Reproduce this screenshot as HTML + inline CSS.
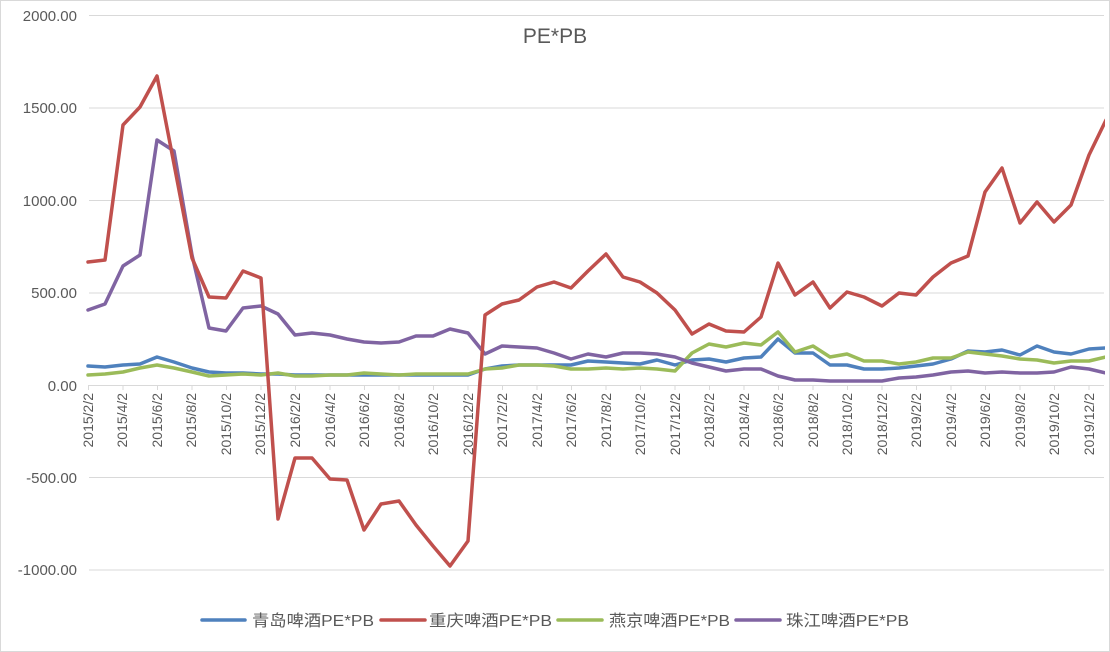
<!DOCTYPE html>
<html><head><meta charset="utf-8"><style>
html,body{margin:0;padding:0;background:#fff}
svg{display:block}
text{font-family:"Liberation Sans","Noto Sans CJK SC",sans-serif;fill:#595959}
</style></head><body>
<svg width="1110" height="652" viewBox="0 0 1110 652" xmlns="http://www.w3.org/2000/svg">
<rect x="0.5" y="0.5" width="1109" height="651" fill="#fff" stroke="#d9d9d9"/>
<g stroke="#d9d9d9" stroke-width="1">
<line x1="89" y1="15.5" x2="1104" y2="15.5"/>
<line x1="89" y1="108" x2="1104" y2="108"/>
<line x1="89" y1="200.5" x2="1104" y2="200.5"/>
<line x1="89" y1="293" x2="1104" y2="293"/>
<line x1="89" y1="477.5" x2="1104" y2="477.5"/>
<line x1="89" y1="570" x2="1104" y2="570"/>
<line x1="89" y1="385.5" x2="1104" y2="385.5"/>
</g>
<g font-size="15" text-anchor="end">
<text x="77" y="21">2000.00</text>
<text x="77" y="113">1500.00</text>
<text x="77" y="206">1000.00</text>
<text x="77" y="298">500.00</text>
<text x="77" y="391">0.00</text>
<text x="77" y="483">-500.00</text>
<text x="77" y="575">-1000.00</text>
</g>
<text x="555" y="43" font-size="21" text-anchor="middle">PE*PB</text>
<g font-size="14" text-anchor="end">
<text transform="translate(93,393) rotate(-90)">2015/2/2</text>
<text transform="translate(127,393) rotate(-90)">2015/4/2</text>
<text transform="translate(162,393) rotate(-90)">2015/6/2</text>
<text transform="translate(196,393) rotate(-90)">2015/8/2</text>
<text transform="translate(231,393) rotate(-90)">2015/10/2</text>
<text transform="translate(265,393) rotate(-90)">2015/12/2</text>
<text transform="translate(300,393) rotate(-90)">2016/2/2</text>
<text transform="translate(335,393) rotate(-90)">2016/4/2</text>
<text transform="translate(369,393) rotate(-90)">2016/6/2</text>
<text transform="translate(404,393) rotate(-90)">2016/8/2</text>
<text transform="translate(438,393) rotate(-90)">2016/10/2</text>
<text transform="translate(473,393) rotate(-90)">2016/12/2</text>
<text transform="translate(507,393) rotate(-90)">2017/2/2</text>
<text transform="translate(542,393) rotate(-90)">2017/4/2</text>
<text transform="translate(576,393) rotate(-90)">2017/6/2</text>
<text transform="translate(611,393) rotate(-90)">2017/8/2</text>
<text transform="translate(645,393) rotate(-90)">2017/10/2</text>
<text transform="translate(680,393) rotate(-90)">2017/12/2</text>
<text transform="translate(714,393) rotate(-90)">2018/2/2</text>
<text transform="translate(749,393) rotate(-90)">2018/4/2</text>
<text transform="translate(783,393) rotate(-90)">2018/6/2</text>
<text transform="translate(818,393) rotate(-90)">2018/8/2</text>
<text transform="translate(852,393) rotate(-90)">2018/10/2</text>
<text transform="translate(887,393) rotate(-90)">2018/12/2</text>
<text transform="translate(921,393) rotate(-90)">2019/2/2</text>
<text transform="translate(956,393) rotate(-90)">2019/4/2</text>
<text transform="translate(990,393) rotate(-90)">2019/6/2</text>
<text transform="translate(1025,393) rotate(-90)">2019/8/2</text>
<text transform="translate(1059,393) rotate(-90)">2019/10/2</text>
<text transform="translate(1094,393) rotate(-90)">2019/12/2</text>
</g>
<g stroke="#d9d9d9" stroke-width="1">
<path d="M88.5 385v5M123 385v5M157.5 385v5M192 385v5M226.5 385v5M261 385v5M295.5 385v5M330 385v5M364.5 385v5M399 385v5M433.5 385v5M468 385v5M502.5 385v5M537 385v5M571.5 385v5M606 385v5M640.5 385v5M675 385v5M709.5 385v5M744 385v5M778.5 385v5M813 385v5M847.5 385v5M882 385v5M916.5 385v5M951 385v5M985.5 385v5M1020 385v5M1054.5 385v5M1089 385v5"/>
</g>
<clipPath id="c"><rect x="85" y="0" width="1020" height="652"/></clipPath>
<g fill="none" stroke-width="3.5" stroke-linejoin="round" stroke-linecap="round" clip-path="url(#c)">
<polyline stroke="#4f81bd" points="88,366 105,367 123,365 140,364 157,357 174,362 192,368 209,372 226,373 243,373 261,374 278,374 295,375 312,375 330,375 347,375 364,375 381,375 399,375 416,375 433,375 450,375 468,375 485,369 502,366 519,365 537,365 554,365 571,365 588,361 606,362 623,363 640,364 657,360 675,365 692,360 709,359 726,362 744,358 761,357 778,339 795,353 813,353 830,365 847,365 864,369 882,369 899,368 916,366 933,364 951,359 968,351 985,352 1002,350 1020,355 1037,346 1054,352 1071,354 1089,349 1106,348"/>
<polyline stroke="#9bbb59" points="88,375 105,374 123,372 140,368 157,365 174,368 192,372 209,376 226,375 243,374 261,375 278,373 295,376 312,376 330,375 347,375 364,373 381,374 399,375 416,374 433,374 450,374 468,374 485,369 502,368 519,365 537,365 554,366 571,369 588,369 606,368 623,369 640,368 657,369 675,371 692,353 709,344 726,347 744,343 761,345 778,332 795,352 813,346 830,357 847,354 864,361 882,361 899,364 916,362 933,358 951,358 968,352 985,354 1002,356 1020,359 1037,360 1054,363 1071,361 1089,361 1106,357"/>
<polyline stroke="#8064a2" points="88,310 105,304 123,266 140,255 157,140 174,151 192,255 209,328 226,331 243,308 261,306 278,314 295,335 312,333 330,335 347,339 364,342 381,343 399,342 416,336 433,336 450,329 468,333 485,354 502,346 519,347 537,348 554,353 571,359 588,354 606,357 623,353 640,353 657,354 675,357 692,363 709,367 726,371 744,369 761,369 778,376 795,380 813,380 830,381 847,381 864,381 882,381 899,378 916,377 933,375 951,372 968,371 985,373 1002,372 1020,373 1037,373 1054,372 1071,367 1089,369 1106,373"/>
<polyline stroke="#c0504d" points="88,262 105,260 123,125 140,107 157,76 174,164 192,258 209,297 226,298 243,271 261,278 278,519 295,458 312,458 330,479 347,480 364,530 381,504 399,501 416,525 433,546 450,566 468,541 485,315 502,304 519,300 537,287 554,282 571,288 588,271 606,254 623,277 640,282 657,293 675,310 692,334 709,324 726,331 744,332 761,317 778,263 795,295 813,282 830,308 847,292 864,297 882,306 899,293 916,295 933,277 951,263 968,256 985,192 1002,168 1020,223 1037,202 1054,222 1071,205 1089,155 1106,120"/>
</g>
<g stroke-width="3.5" stroke-linecap="round">
<line x1="202" y1="620" x2="245" y2="620" stroke="#4f81bd"/>
<line x1="381" y1="620" x2="425" y2="620" stroke="#c0504d"/>
<line x1="558" y1="620" x2="602" y2="620" stroke="#9bbb59"/>
<line x1="736" y1="620" x2="780" y2="620" stroke="#8064a2"/>
</g>
<g font-size="16">
<text x="252" y="626" textLength="122" lengthAdjust="spacingAndGlyphs">青岛啤酒PE*PB</text>
<text x="429" y="626" textLength="123" lengthAdjust="spacingAndGlyphs">重庆啤酒PE*PB</text>
<text x="609" y="626" textLength="121" lengthAdjust="spacingAndGlyphs">燕京啤酒PE*PB</text>
<text x="786" y="626" textLength="123" lengthAdjust="spacingAndGlyphs">珠江啤酒PE*PB</text>
</g>
</svg>
</body></html>
